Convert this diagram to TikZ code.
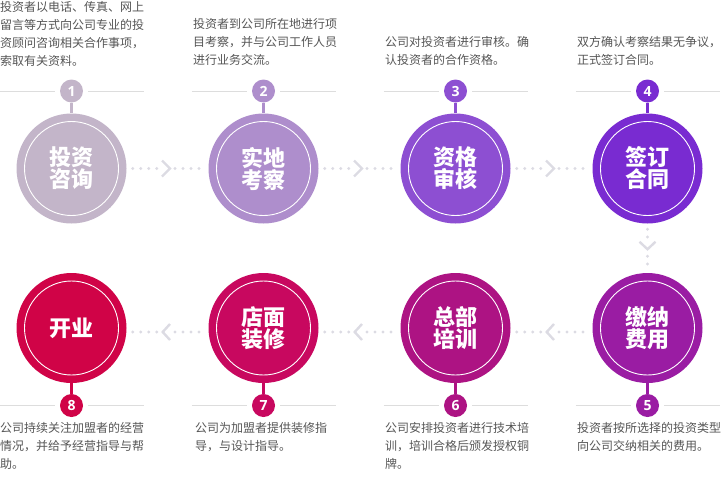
\documentclass[tikz,border=0pt]{standalone}
\usepackage{fontspec}
\setmainfont{Noto Sans CJK SC}
\newfontfamily\numfont{Open Sans}
\usetikzlibrary{calc}
\definecolor{k1}{HTML}{C3B5C9}
\definecolor{k2}{HTML}{AE8ECC}
\definecolor{k3}{HTML}{8D4FD2}
\definecolor{k4}{HTML}{792BD1}
\definecolor{k5}{HTML}{9A1CA3}
\definecolor{k6}{HTML}{AD1383}
\definecolor{k7}{HTML}{C8085F}
\definecolor{k8}{HTML}{D00347}
\definecolor{dotc}{HTML}{DCDBE3}
\definecolor{rulec}{HTML}{DDDDDD}
\definecolor{txtc}{HTML}{555555}
\tikzset{
  big/.style={circle, fill=#1, minimum size=110pt, inner sep=0pt, text=white,
    font=\fontsize{22}{22}\selectfont\bfseries, align=center},
  badge/.style={circle, fill=#1, minimum size=23pt, inner sep=0pt, text=white,
    font=\numfont\bfseries\fontsize{14}{14}\selectfont},
  desc/.style={anchor=north west, inner sep=0pt, text=txtc,
    font=\fontsize{12}{18}\selectfont, align=left},
  stem/.style={line width=2.5pt},
  rule/.style={rulec, line width=0.8pt},
  ring/.style={white, line width=0.9pt},
  pics/rconn/.style={code={
    \foreach \d in {-34.8,-26.8,-18.8,-10.8,7.5,15.5,23.5,31.5} \fill[dotc] (\d,0) circle (1.6);
    \draw[dotc, line width=2.4pt] (-5.5,-8) -- (2.5,0) -- (-5.5,8);
  }},
  pics/lconn/.style={code={
    \foreach \d in {-34.8,-26.8,-18.8,-10.8,7.5,15.5,23.5,31.5} \fill[dotc] (\d,0) circle (1.6);
    \draw[dotc, line width=2.4pt] (2.5,-8) -- (-4.8,0) -- (2.5,8);
  }},
  pics/dconn/.style={code={
    \foreach \d in {-19,-11.3,8,15.7} \fill[dotc] (0,\d) circle (1.6);
    \draw[dotc, line width=2.4pt] (-8,-6.5) -- (0,1) -- (8,-6.5);
  }}
}
\begin{document}
\begin{tikzpicture}[x=1pt,y=-1pt]
\useasboundingbox (0,0) rectangle (722,482);
% circles
\node[big=k1] (c1) at (71.5,168.5) {投资\\咨询};
\node[big=k2] (c2) at (263.5,168.5) {实地\\考察};
\node[big=k3] (c3) at (455.5,168.5) {资格\\审核};
\node[big=k4] (c4) at (647.5,168.5) {签订\\合同};
\node[big=k5] (c5) at (647.5,328) {缴纳\\费用};
\node[big=k6] (c6) at (455.5,328) {总部\\培训};
\node[big=k7] (c7) at (263.5,328) {店面\\装修};
\node[big=k8] (c8) at (71.5,328) {开业};
\foreach \i in {1,...,8} \draw[ring] (c\i) circle (47);
% badges
\node[badge=k1] (b1) at (71.5,91) {1};
\node[badge=k2] (b2) at (263.5,91) {2};
\node[badge=k3] (b3) at (455.5,91) {3};
\node[badge=k4] (b4) at (647.5,91) {4};
\node[badge=k5] (b5) at (647.5,405.5) {5};
\node[badge=k6] (b6) at (455.5,405.5) {6};
\node[badge=k7] (b7) at (263.5,405.5) {7};
\node[badge=k8] (b8) at (71.5,405.5) {8};
\foreach \i/\c in {1/k1,2/k2,3/k3,4/k4}
  \draw[stem,\c] (b\i.south) -- (c\i.north);
\foreach \i/\c in {5/k5,6/k6,7/k7,8/k8}
  \draw[stem,\c] (c\i.south) -- (b\i.north);
\foreach \i in {1,...,8}
  \draw[rule] ([xshift=-72pt]b\i.center) -- ([xshift=-16.5pt]b\i.center)
              ([xshift=16.5pt]b\i.center) -- ([xshift=72pt]b\i.center);
% connectors
\path (c1) -- (c2) pic[pos=0.5]{rconn};
\path (c2) -- (c3) pic[pos=0.5]{rconn};
\path (c3) -- (c4) pic[pos=0.5]{rconn};
\path (c4) -- (c5) pic[pos=0.5]{dconn};
\path ([yshift=-4pt]c5.center) -- ([yshift=-4pt]c6.center) pic[pos=0.5]{lconn};
\path ([yshift=-4pt]c6.center) -- ([yshift=-4pt]c7.center) pic[pos=0.5]{lconn};
\path ([yshift=-4pt]c7.center) -- ([yshift=-4pt]c8.center) pic[pos=0.5]{lconn};
% descriptions
\node[desc] (t1) at (0,1.5) {投资者以电话、传真、网上\\留言等方式向公司专业的投\\资顾问咨询相关合作事项，\\索取有关资料。};
\node[desc] (t2) at (193,18.5) {投资者到公司所在地进行项\\目考察，并与公司工作人员\\进行业务交流。};
\node[desc] (t3) at (385,36.5) {公司对投资者进行审核。确\\认投资者的合作资格。};
\node[desc] (t4) at (577,36.5) {双方确认考察结果无争议，\\正式签订合同。};
\node[desc] (t5) at (577,422) {投资者按所选择的投资类型\\向公司交纳相关的费用。};
\node[desc] (t6) at (385,422) {公司安排投资者进行技术培\\训，培训合格后颁发授权铜\\牌。};
\node[desc] (t7) at (195,422) {公司为加盟者提供装修指\\导，与设计指导。};
\node[desc] (t8) at (0,422) {公司持续关注加盟者的经营\\情况，并给予经营指导与帮\\助。};
\end{tikzpicture}
\end{document}
